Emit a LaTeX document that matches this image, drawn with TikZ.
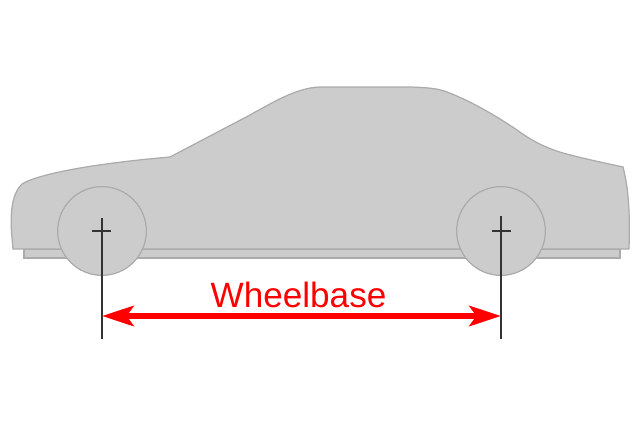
\documentclass[tikz,border=0pt]{standalone}
\usepackage{fontspec}
\setmainfont{Liberation Sans}
\usetikzlibrary{arrows.meta}
\definecolor{bodygray}{HTML}{CCCCCC}
\definecolor{edgegray}{HTML}{ABABAB}
\definecolor{axisgray}{HTML}{333333}
\definecolor{markred}{HTML}{FF0000}
\tikzset{
  carpart/.style={fill=bodygray,draw=edgegray,line width=0.7pt},
  wheel/.style={carpart,circle,inner sep=0pt,minimum size=50.5pt},
  axisline/.style={draw=axisgray,line width=0.6pt},
  span/.style={draw=markred,line width=3.4pt,
    {Stealth[length=18pt,width=11.5pt,inset=4pt]}-{Stealth[length=18pt,width=11.5pt,inset=4pt]}},
}
\begin{document}
\begin{tikzpicture}[x=0.02cm,y=-0.02cm]
  \useasboundingbox (0,0) rectangle (640,427);
  \draw[carpart] (24,249) rectangle (620,258);
  \draw[carpart] (13,249) -- (11.5,232)
    .. controls (10,205) and (14,192) .. (22,184)
    .. controls (40,173) and (100,163) .. (170,157)
    -- (250,115)
    .. controls (275,101) and (298,87.5) .. (320,87)
    -- (410,87)
    .. controls (428,87.5) and (438,88.5) .. (447,92)
    .. controls (468,100) and (492,113) .. (517,130)
    .. controls (532,141) and (546,148) .. (563,153)
    .. controls (585,159) and (605,163) .. (623,167)
    .. controls (629,190) and (630,215) .. (629,249)
    -- cycle;
  \node[wheel] (front) at (102,231) {};
  \node[wheel] (rear) at (501,231) {};
  \coordinate (fronttop) at (102,218);
  \coordinate (frontend) at (102,339);
  \coordinate (fronthubl) at (92,231);
  \coordinate (fronthubr) at (111,231);
  \coordinate (reartop) at (501,216);
  \coordinate (rearend) at (501,339);
  \coordinate (rearhubl) at (492,231);
  \coordinate (rearhubr) at (511,231);
  \coordinate (spanl) at (102,316);
  \coordinate (spanr) at (501,316);
  \draw[axisline] (fronttop) to (frontend);
  \draw[axisline] (fronthubl) to (fronthubr);
  \draw[axisline] (reartop) to (rearend);
  \draw[axisline] (rearhubl) to (rearhubr);
  \draw[span] (spanl) to (spanr);
  \node[text=markred,font=\fontsize{20}{24}\selectfont,inner sep=0pt,anchor=base] (wheelbase) at (298.5,307) {Wheelbase};
\end{tikzpicture}
\end{document}
